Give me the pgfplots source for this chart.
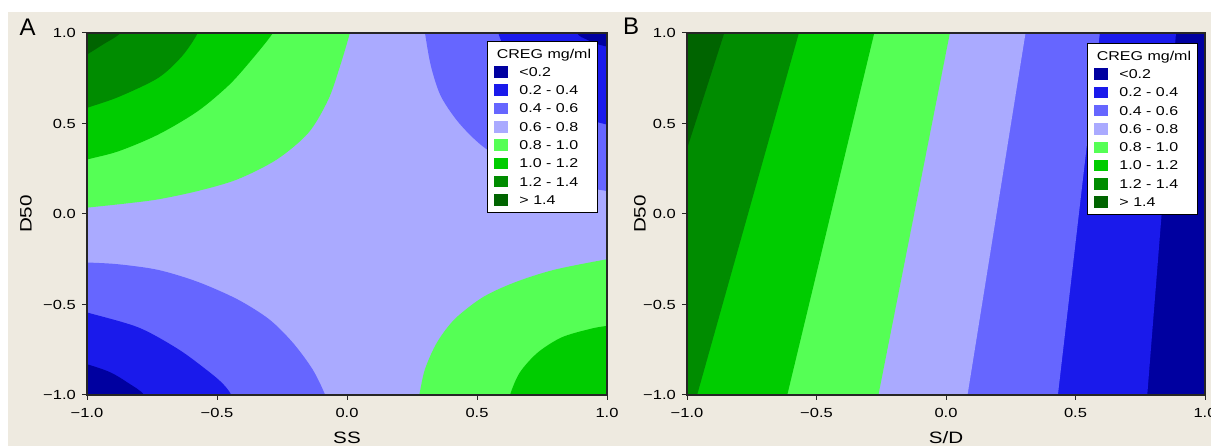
\documentclass[border=0pt]{standalone}
\usepackage{pgfplots}
\pgfplotsset{compat=1.18}
\usepackage{fontspec}
\setmainfont{Liberation Sans}[FakeStretch=1.25]
\newfontfamily\plainfont{Liberation Sans}
\definecolor{bgc}{RGB}{238,234,224}
\definecolor{cA}{RGB}{0,0,160}
\definecolor{cB}{RGB}{26,26,235}
\definecolor{cC}{RGB}{102,102,255}
\definecolor{cD}{RGB}{170,170,255}
\definecolor{cE}{RGB}{85,255,85}
\definecolor{cF}{RGB}{0,204,0}
\definecolor{cG}{RGB}{0,140,0}
\definecolor{cH}{RGB}{0,100,0}
\newcommand{\sq}[1]{\addlegendimage{legend image code/.code={\fill[#1] (0pt,-5.25pt) rectangle (13pt,5.25pt);\path (25pt,0pt);}}}
\pgfplotsset{
 contourax/.style={
  scale only axis, height=362pt,
  xmin=-1,xmax=1,ymin=-1,ymax=1,
  xtick={-1,-0.5,0,0.5,1}, ytick={-1,-0.5,0,0.5,1},
  xticklabels={−1.0,−0.5,0.0,0.5,1.0},
  yticklabels={−1.0,−0.5,0.0,0.5,1.0},
  tick pos=left, tick align=outside, major tick length=5pt,
  tick style={black!85, line width=1pt},
  axis line style={black!85, line width=1.2pt},
  axis on top,
  ticklabel style={font=\fontsize{13.2}{14}\selectfont, inner sep=0pt},
  xticklabel style={text height=9.4pt, text depth=0pt, yshift=-8pt},
  yticklabel style={xshift=-6pt},
  label style={font=\fontsize{16.5}{17}\selectfont},
  xlabel style={at={(axis description cs:0.5,-0.1188)}, anchor=center},
  legend cell align=left,
  legend style={draw=black, line width=0.8pt, fill=white,
    font=\fontsize{12.8}{13}\selectfont, inner xsep=6.5pt, inner ysep=3pt,
    row sep=0pt, column sep=0pt,
    nodes={inner xsep=0pt, inner ysep=0pt, text height=9pt, text depth=0pt, minimum height=18.3pt}},
 },
 band/.style={draw=none, forget plot},
}
\begin{document}
\begin{tikzpicture}
\useasboundingbox (0pt,0pt) rectangle (1211pt,446pt);
\fill[white] (0pt,0pt) rectangle (1211pt,446pt);
\fill[bgc] (8pt,0pt) rectangle (1211pt,434pt);
\node[font=\plainfont\fontsize{24}{24}\selectfont, anchor=center] at (27.7pt,419pt) {A};
\node[font=\plainfont\fontsize{24}{24}\selectfont, anchor=center] at (631pt,420pt) {B};

\begin{axis}[contourax, at={(87pt,51pt)}, anchor=south west, width=520pt,
  xlabel={SS}, ylabel={D50},
  ylabel style={at={(axis description cs:-0.1173,0.5)}, anchor=center},
  legend style={at={(axis description cs:0.9827,0.978)}, anchor=north east}]
\addplot[band, fill=cD] coordinates {(-1.5,-1.5) (1.5,-1.5) (1.5,1.5) (-1.5,1.5)};
% top-left
\addplot[band, fill=cE, smooth] coordinates {(-1.4,-0.03) (-1.15,0.012) (-1,0.035) (-0.85,0.058) (-0.726,0.081) (-0.574,0.127) (-0.422,0.191) (-0.27,0.301) (-0.148,0.449) (-0.072,0.632) (-0.027,0.816) (0.011,1.0) (0.035,1.15) (0.06,1.5) (-1.5,1.5)};
\addplot[band, fill=cF, smooth] coordinates {(-1.4,0.15) (-1.15,0.245) (-1,0.301) (-0.878,0.347) (-0.726,0.439) (-0.574,0.568) (-0.452,0.715) (-0.361,0.862) (-0.285,1.0) (-0.24,1.12) (-0.2,1.5) (-1.5,1.5)};
\addplot[band, fill=cG, smooth] coordinates {(-1.4,0.39) (-1.15,0.51) (-1,0.586) (-0.878,0.647) (-0.726,0.752) (-0.635,0.871) (-0.574,1.0) (-0.545,1.12) (-0.52,1.5) (-1.5,1.5)};
\addplot[band, fill=cH, smooth] coordinates {(-1.4,0.52) (-1.15,0.75) (-1,0.881) (-0.939,0.936) (-0.871,1.0) (-0.83,1.1) (-0.8,1.5) (-1.5,1.5)};
% top-right
\addplot[band, fill=cC, smooth] coordinates {(0.27,1.5) (0.29,1.12) (0.3,1.0) (0.323,0.816) (0.361,0.651) (0.43,0.504) (0.521,0.375) (0.643,0.265) (0.795,0.182) (1.0,0.127) (1.15,0.1) (1.5,0.07) (1.5,1.5)};
\addplot[band, fill=cB, smooth] coordinates {(0.55,1.5) (0.565,1.12) (0.582,1.0) (0.61,0.9) (0.65,0.8) (0.71,0.7) (0.79,0.61) (0.89,0.54) (1.0,0.494) (1.15,0.45) (1.5,0.4) (1.5,1.5)};
\addplot[band, fill=cA, smooth] coordinates {(0.86,1.5) (0.87,1.12) (0.885,1.0) (0.92,0.965) (0.96,0.94) (1.0,0.925) (1.15,0.88) (1.5,0.85) (1.5,1.5)};
% bottom-left
\addplot[band, fill=cC, smooth] coordinates {(-1.4,-0.25) (-1.15,-0.262) (-1,-0.268) (-0.878,-0.278) (-0.726,-0.309) (-0.574,-0.375) (-0.422,-0.471) (-0.3,-0.581) (-0.209,-0.71) (-0.133,-0.857) (-0.084,-1.0) (-0.06,-1.12) (-0.04,-1.5) (-1.5,-1.5)};
\addplot[band, fill=cB, smooth] coordinates {(-1.4,-0.43) (-1.15,-0.485) (-1,-0.544) (-0.802,-0.627) (-0.65,-0.746) (-0.544,-0.857) (-0.483,-0.93) (-0.445,-1.0) (-0.42,-1.12) (-0.4,-1.5) (-1.5,-1.5)};
\addplot[band, fill=cA, smooth] coordinates {(-1.4,-0.68) (-1.15,-0.77) (-1,-0.83) (-0.91,-0.875) (-0.84,-0.935) (-0.78,-1.0) (-0.745,-1.12) (-0.72,-1.5) (-1.5,-1.5)};
% bottom-right
\addplot[band, fill=cE, smooth] coordinates {(0.25,-1.5) (0.262,-1.12) (0.278,-1.0) (0.3,-0.857) (0.346,-0.71) (0.414,-0.581) (0.521,-0.461) (0.643,-0.379) (0.795,-0.309) (1.0,-0.25) (1.15,-0.215) (1.5,-0.18) (1.5,-1.5)};
\addplot[band, fill=cF, smooth] coordinates {(0.6,-1.5) (0.612,-1.12) (0.627,-1.0) (0.665,-0.875) (0.734,-0.765) (0.825,-0.682) (0.932,-0.636) (1.0,-0.618) (1.15,-0.59) (1.5,-0.56) (1.5,-1.5)};
\addlegendimage{empty legend}\addlegendentry{\hspace*{-22.6pt}CREG mg/ml}
\sq{cA}\addlegendentry{<0.2}
\sq{cB}\addlegendentry{0.2 - 0.4}
\sq{cC}\addlegendentry{0.4 - 0.6}
\sq{cD}\addlegendentry{0.6 - 0.8}
\sq{cE}\addlegendentry{0.8 - 1.0}
\sq{cF}\addlegendentry{1.0 - 1.2}
\sq{cG}\addlegendentry{1.2 - 1.4}
\sq{cH}\addlegendentry{> 1.4}
\end{axis}

\begin{axis}[contourax, at={(687pt,51pt)}, anchor=south west, width=518pt,
  xlabel={S/D}, ylabel={D50},
  ylabel style={at={(axis description cs:-0.0907,0.5)}, anchor=center},
  legend style={at={(axis description cs:0.9865,0.972)}, anchor=north east}]
\addplot[band, fill=cA] coordinates {(-1.5,-1.5) (1.5,-1.5) (1.5,1.5) (-1.5,1.5)};
\addplot[band, fill=cB] coordinates {(0.777,-1) (0.888,1) (-1.5,1) (-1.5,-1)};
\addplot[band, fill=cC] coordinates {(0.432,-1) (0.594,1) (-1.5,1) (-1.5,-1)};
\addplot[band, fill=cD] coordinates {(0.083,-1) (0.307,1) (-1.5,1) (-1.5,-1)};
\addplot[band, fill=cE] coordinates {(-0.261,-1) (0.015,1) (-1.5,1) (-1.5,-1)};
\addplot[band, fill=cF] coordinates {(-0.613,-1) (-0.277,1) (-1.5,1) (-1.5,-1)};
\addplot[band, fill=cG] coordinates {(-0.961,-1) (-0.568,1) (-1.5,1) (-1.5,-1)};
\addplot[band, fill=cH] coordinates {(-1.306,-1) (-0.856,1) (-1.5,1) (-1.5,-1)};
\addlegendimage{empty legend}\addlegendentry{\hspace*{-22.6pt}CREG mg/ml}
\sq{cA}\addlegendentry{<0.2}
\sq{cB}\addlegendentry{0.2 - 0.4}
\sq{cC}\addlegendentry{0.4 - 0.6}
\sq{cD}\addlegendentry{0.6 - 0.8}
\sq{cE}\addlegendentry{0.8 - 1.0}
\sq{cF}\addlegendentry{1.0 - 1.2}
\sq{cG}\addlegendentry{1.2 - 1.4}
\sq{cH}\addlegendentry{> 1.4}
\end{axis}
\end{tikzpicture}
\end{document}
